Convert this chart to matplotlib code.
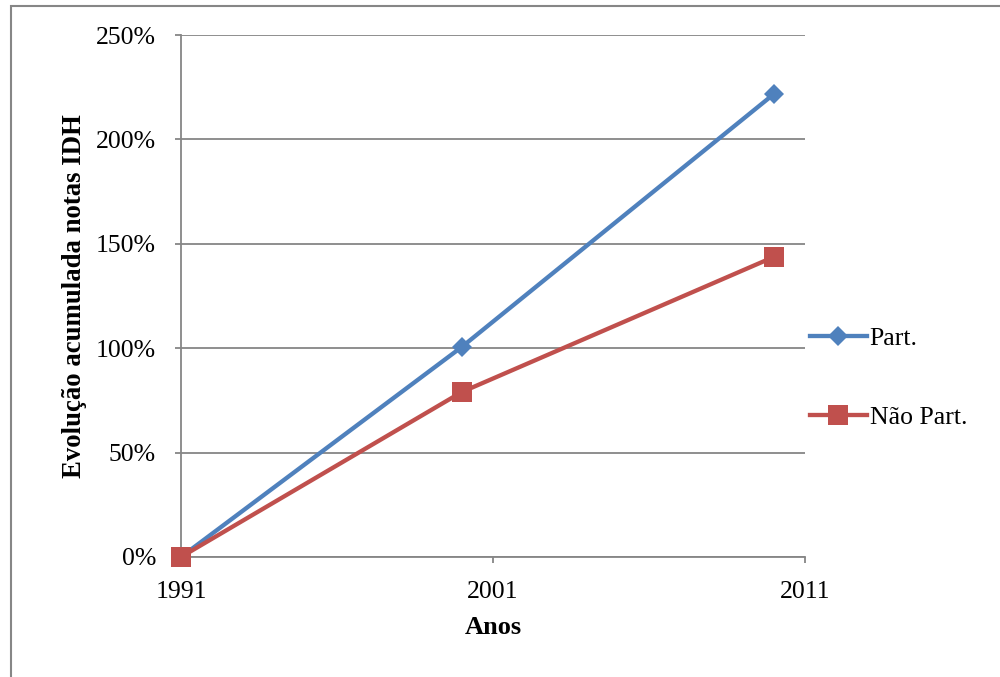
import matplotlib.pyplot as plt
import matplotlib.patches as pth
from matplotlib.ticker import FuncFormatter, MultipleLocator

# Evolução acumulada das notas do IDH (censos de 1991, 2000 e 2010)
anos = [1991, 2000, 2010]
part = [0.00, 1.006, 2.217]
nao_part = [0.00, 0.790, 1.437]
rotulos_x = [1991, 2001, 2011]

plt.rcParams['font.family'] = ['Liberation Serif', 'DejaVu Serif']

azul = '#4F81BD'
vermelho = '#C0504D'
cinza = '#868686'

fig = plt.figure(figsize=(10, 6.77), dpi=100)
ax = fig.add_axes([0.181, 0.1773, 0.624, 0.771])

ax.plot(anos, part, color=azul, lw=3.1, marker='D', ms=10, mew=0,
        label='Part.', clip_on=False, zorder=3)
ax.plot(anos, nao_part, color=vermelho, lw=3.1, marker='s', ms=14.4, mew=0,
        label='Não Part.', clip_on=False, zorder=4)

ax.set_xlim(1991, 2011)
ax.set_ylim(0, 2.5)
ax.set_xticks(rotulos_x)
ax.yaxis.set_major_locator(MultipleLocator(0.5))
ax.yaxis.set_major_formatter(FuncFormatter(lambda v, p: '%d%%' % round(v * 100)))

ax.grid(axis='y', color=cinza, lw=1.3)
ax.set_axisbelow(True)
for s in ['top', 'right']:
    ax.spines[s].set_visible(False)
for s in ['left', 'bottom']:
    ax.spines[s].set_color(cinza)
    ax.spines[s].set_linewidth(1.3)

ax.tick_params(axis='y', length=4.5, width=1.3, color=cinza, labelsize=18.5, pad=13.5)
ax.tick_params(axis='x', length=4.5, width=1.3, color=cinza, labelsize=18.5, pad=13)

fig.text(0.075, 1 - 296 / 677, 'Evolução acumulada notas IDH', rotation=90,
         ha='center', va='center', fontsize=19.3, fontweight='bold')
fig.text(0.493, 1 - 628 / 677, 'Anos', ha='center', va='center',
         fontsize=19, fontweight='bold')

ax.legend(loc='center left', bbox_to_anchor=(0.810, 1 - 378 / 677),
          bbox_transform=fig.transFigure, frameon=False, fontsize=18.5,
          handlelength=2.2, handletextpad=0.12, labelspacing=2.2,
          borderpad=0, borderaxespad=0)

# moldura do gráfico (cortada à direita e embaixo)
fig.patches.append(pth.Rectangle((0.011, -0.5), 2, 0.5 + 1 - 6 / 677,
                                 transform=fig.transFigure, fill=False,
                                 edgecolor=cinza, linewidth=1.5))

fig.savefig('out.png', dpi=100)
